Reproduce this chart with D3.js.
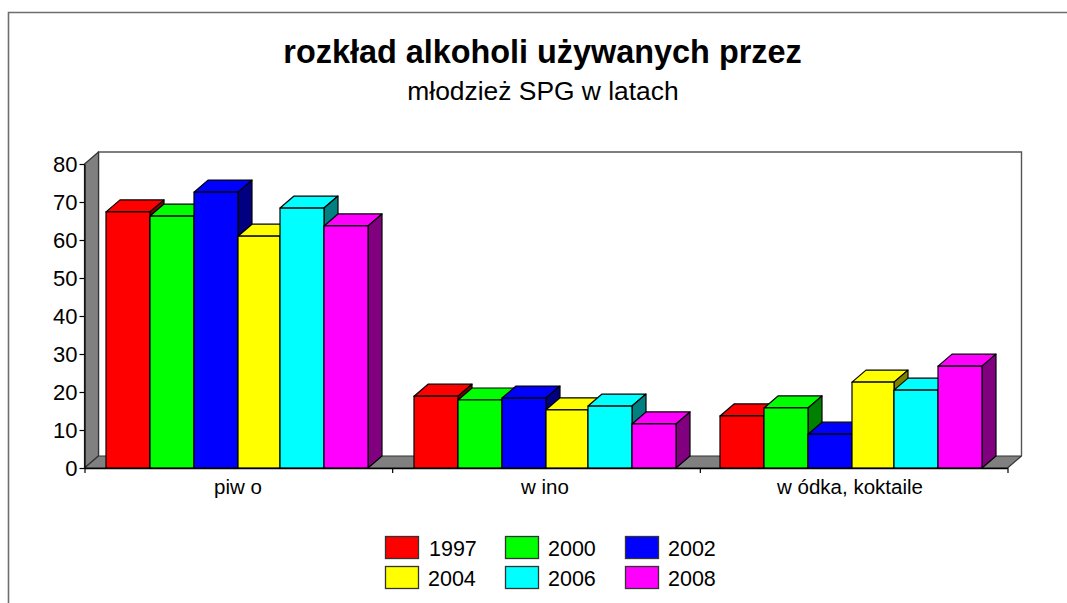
<!DOCTYPE html>
<html><head><meta charset="utf-8">
<script src="https://cdn.jsdelivr.net/npm/d3@7/dist/d3.min.js"></script>
<style>html,body{margin:0;padding:0;background:#fff}svg{display:block}text{font-family:"Liberation Sans",Arial,sans-serif;fill:#000}</style>
</head><body><svg id="c" width="1067" height="603"></svg>
<script>
const titleText = "rozkład alkoholi używanych przez";
const subtitleText = "młodzież SPG w latach";
const categories = ["piw o", "w ino", "w ódka, koktaile"];
const series = ["1997", "2000", "2002", "2004", "2006", "2008"];
const values1997 = [67.4, 18.9, 13.7];
const values2000 = [66.3, 17.9, 15.8];
const values2002 = [72.6, 18.4, 8.9];
const values2004 = [61.0, 15.3, 22.6];
const values2006 = [68.4, 16.3, 20.5];
const values2008 = [63.7, 11.6, 26.8];
const colours = ["#ff0000", "#00ff00", "#0000ff", "#ffff00", "#00ffff", "#ff00ff"];
const sideColours = ["#800000", "#008000", "#000080", "#808000", "#008080", "#800080"];
const yTicks = [0, 10, 20, 30, 40, 50, 60, 70, 80];

const table = [values1997, values2000, values2002, values2004, values2006, values2008];
const svg = d3.select("#c");
const dx = 14, dy = -12, x0 = 84.5, x1 = 1007.5, y0 = 468, y80 = 164;
const y = d3.scaleLinear().domain([0, 80]).range([y0, y80]);
const xCat = d3.scaleOrdinal(categories, [106, 414, 720]);
const xSer = d3.scaleOrdinal([...series, "end"], [0, 44, 88, 132, 174, 218, 262]);
const xTick = d3.scalePoint().domain(d3.range(4)).range([x0, x1]);
const centre = d3.scaleOrdinal(categories, [238, 545, 850]);
const ink = "#000", sw = 1.2;

// outer frame
svg.append("path").attr("d", "M8.5,603V12.5H1067").attr("fill", "none").attr("stroke", "#6e6e6e").attr("stroke-width", 1.6);

// titles
svg.append("text").attr("x", 542.5).attr("y", 63).attr("text-anchor", "middle").attr("font-weight", "bold").attr("font-size", 32.4).text(titleText);
svg.append("text").attr("x", 543).attr("y", 100).attr("text-anchor", "middle").attr("font-size", 26.4).text(subtitleText);

// back wall, side wall, floor
const poly = (pts, fill, stroke) => svg.append("path").attr("d", d3.line()(pts) + "Z").attr("fill", fill).attr("stroke", stroke || ink).attr("stroke-width", sw).attr("stroke-linejoin", "round");
svg.append("path").attr("d", d3.line()([[x0 + dx, y0 + dy], [x0 + dx, y80 + dy], [x1 + dx, y80 + dy], [x1 + dx, y0 + dy]])).attr("fill", "none").attr("stroke", "#555").attr("stroke-width", 1.4);
poly([[x0, y80], [x0 + dx, y80 + dy], [x0 + dx, y0 + dy], [x0, y0]], "#808080", "#333");
poly([[x0, y0], [x0 + dx, y0 + dy], [x1 + dx, y0 + dy], [x1, y0]], "#808080", "#333");

// bars, painted left to right
categories.forEach((cat, c) => series.forEach((s, i) => {
  const l = xCat(cat) + xSer(s), r = xCat(cat) + xSer(i < 5 ? series[i + 1] : "end"), t = y(table[i][c]);
  poly([[l, t], [l + dx, t + dy], [r + dx, t + dy], [r, t]], colours[i]);
  poly([[r, t], [r + dx, t + dy], [r + dx, y0 + dy], [r, y0]], sideColours[i]);
  poly([[l, t], [r, t], [r, y0], [l, y0]], colours[i]);
}));

// axes
const gy = svg.append("g").attr("transform", `translate(${x0},0)`).call(d3.axisLeft(y).tickValues(yTicks).tickSize(5).tickSizeOuter(0).tickPadding(2));
gy.select(".domain").attr("stroke", "#000").attr("stroke-width", 1.2);
gy.selectAll("line").attr("stroke", "#000").attr("stroke-width", 1.2);
gy.selectAll("text").attr("font-size", 22).attr("font-family", '"Liberation Sans",Arial,sans-serif').attr("dy", "0.33em");
const gx = svg.append("g").attr("transform", `translate(0,${y0})`).call(d3.axisBottom(xTick).tickSize(5).tickSizeOuter(0).tickFormat(""));
gx.select(".domain").attr("stroke", "#000").attr("stroke-width", 1.4);
gx.selectAll("line").attr("stroke", "#000").attr("stroke-width", 1.2);
svg.selectAll(".catLabel").data(categories).join("text").attr("class", "catLabel").attr("x", d => centre(d)).attr("y", 494).attr("text-anchor", "middle").attr("font-size", 20.5).text(d => d);

// legend
const lx = d3.scaleOrdinal([0, 1, 2], [386, 506, 626]);
const ltx = d3.scaleOrdinal([0, 1, 2], [429, 548, 668]);
const ly = d3.scaleOrdinal([0, 1], [536, 566]);
series.forEach((s, i) => {
  const col = i % 3, row = Math.floor(i / 3);
  svg.append("rect").attr("x", lx(col) - .5).attr("y", ly(row) + .5).attr("width", 33).attr("height", 22).attr("fill", colours[i]).attr("stroke", "#333").attr("stroke-width", 1.3);
  svg.append("text").attr("x", ltx(col) - (i === 3 ? 1 : 0)).attr("y", ly(row) + 20).attr("font-size", 21.5).text(s);
});
</script></body></html>
